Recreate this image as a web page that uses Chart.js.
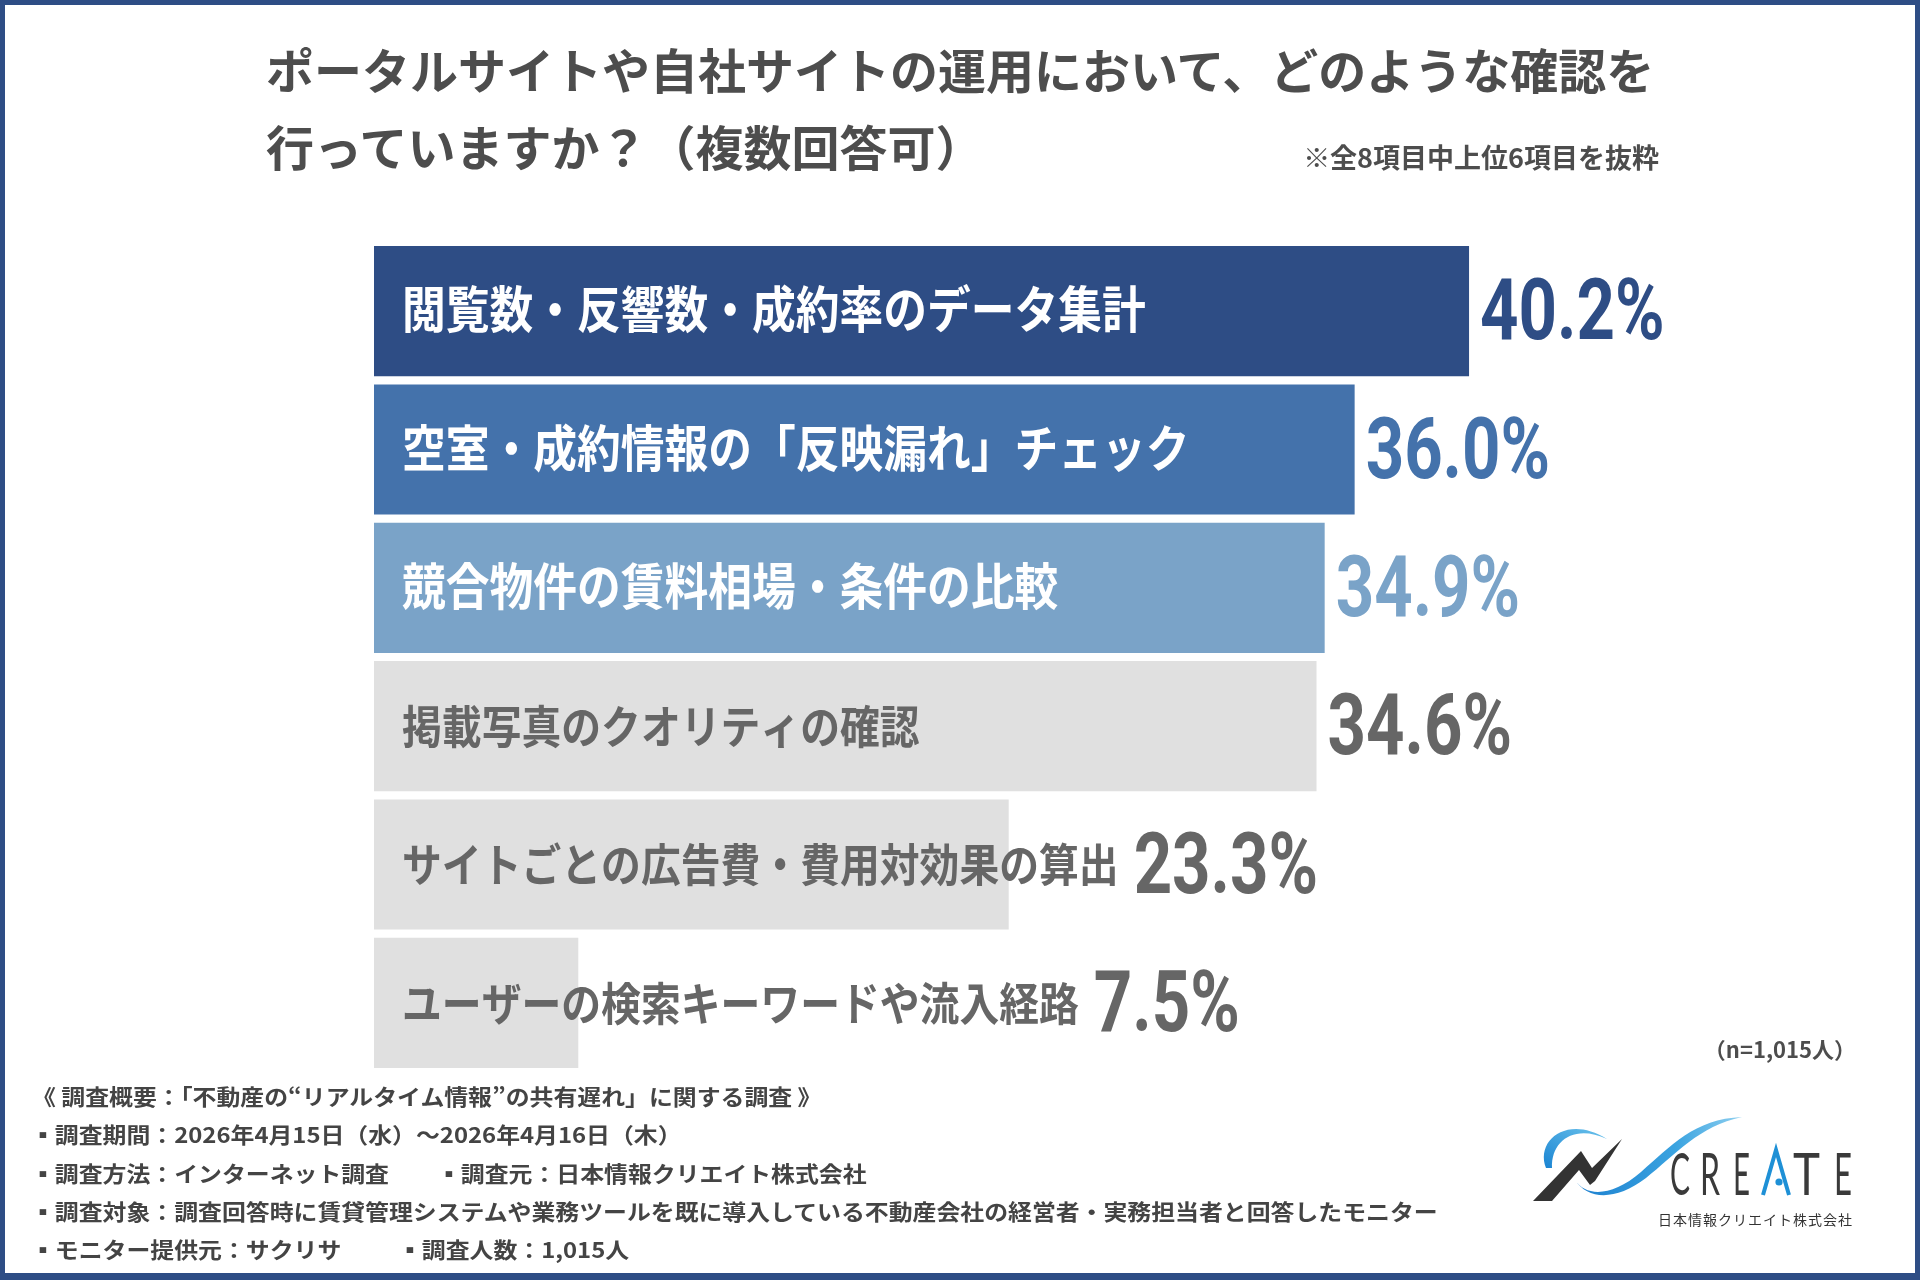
<!DOCTYPE html>
<html lang="ja">
<head>
<meta charset="utf-8">
<script src="https://cdn.jsdelivr.net/npm/chart.js@4.4.1/dist/chart.umd.min.js"></script>
<style>
  html, body { margin: 0; padding: 0; background: #fff; }
  body { width: 1920px; height: 1280px; position: relative; overflow: hidden;
         font-family: "Noto Sans CJK JP", "Noto Sans", sans-serif; }
  #frame { position: absolute; left: 0; top: 0; width: 1920px; height: 1280px; box-sizing: border-box;
           border-style: solid; border-color: #2e4d85; border-width: 5px 5px 7px 5px; pointer-events: none; }
  #chart { position: absolute; left: 0; top: 0; }
  .t { position: absolute; white-space: nowrap; font-weight: 700; }
  .title { left: 266px; font-size: 48px; line-height: 48px; color: #4d4d4d; }
  .note { right: 261px; top: 143px; font-size: 27px; line-height: 27px; color: #4d4d4d; }
  .n { right: 64px; top: 1037px; font-size: 22px; line-height: 22px; color: #4d4d4d; }
  .f { font-size: 21.5px; line-height: 22px; color: #444; transform: scaleX(1.11); transform-origin: left center; }
  #logo { position: absolute; left: 1520px; top: 1100px; }
</style>
</head>
<body>
<canvas id="chart" width="1920" height="1280"></canvas>

<div class="t title" style="top:44px">ポータルサイトや自社サイトの運用において、どのような確認を</div>
<div class="t title" style="top:121px">行っていますか？（複数回答可）</div>
<div class="t note">※全8項目中上位6項目を抜粋</div>
<div class="t n">（n=1,015人）</div>

<div class="t f" style="left:32px; top:1085px">《 調査概要：「不動産の“リアルタイム情報”の共有遅れ」に関する調査 》</div>
<div class="t f" style="left:31px; top:1123px">▪調査期間：2026年4月15日（水）～2026年4月16日（木）</div>
<div class="t f" style="left:31px; top:1162px">▪調査方法：インターネット調査</div>
<div class="t f" style="left:437px; top:1162px">▪調査元：日本情報クリエイト株式会社</div>
<div class="t f" style="left:31px; top:1200px">▪調査対象：調査回答時に賃貸管理システムや業務ツールを既に導入している不動産会社の経営者・実務担当者と回答したモニター</div>
<div class="t f" style="left:31px; top:1238px">▪モニター提供元：サクリサ</div>
<div class="t f" style="left:398px; top:1238px">▪調査人数：1,015人</div>

<svg id="logo" width="350" height="140" viewBox="1520 1100 350 140" xmlns="http://www.w3.org/2000/svg">
  <defs>
    <linearGradient id="g1" x1="0" y1="1" x2="1" y2="0">
      <stop offset="0" stop-color="#1a84d2"/>
      <stop offset="1" stop-color="#6cc3ec"/>
    </linearGradient>
    <linearGradient id="g2" x1="0" y1="0" x2="1" y2="0">
      <stop offset="0" stop-color="#1c7fcf"/>
      <stop offset="0.6" stop-color="#3aa3e0"/>
      <stop offset="1" stop-color="#8fd0f0"/>
    </linearGradient>
  </defs>
  <path d="M1546,1168 C1535,1140 1568,1114 1607,1139 C1575,1124 1551,1140 1552,1168 Z" fill="url(#g1)"/>
  <path d="M1533,1201 L1581,1151 L1592,1168 L1622,1139 L1595,1181 L1590,1185 L1579,1170 L1552,1201 Z" fill="#333"/>
  <path d="M1575,1180 C1586,1197 1612,1197 1641,1172 C1671,1146 1694,1119 1742,1117 C1699,1126 1675,1155 1646,1178 C1616,1201 1588,1200 1575,1180 Z" fill="url(#g2)"/>
  <g font-family="Lato, 'Noto Sans', sans-serif" font-weight="400" font-size="58" fill="#3a3a3a">
    <text x="1670" y="1195" textLength="20" lengthAdjust="spacingAndGlyphs">C</text>
    <text x="1700" y="1195" textLength="20" lengthAdjust="spacingAndGlyphs">R</text>
    <text x="1733" y="1195" textLength="17" lengthAdjust="spacingAndGlyphs">E</text>
    <text x="1793" y="1195" textLength="27" lengthAdjust="spacingAndGlyphs">T</text>
    <text x="1834" y="1195" textLength="18" lengthAdjust="spacingAndGlyphs">E</text>
  </g>
  <path d="M1763,1195 L1776,1150 L1789,1195" fill="none" stroke="#1e90d6" stroke-width="4" stroke-linejoin="miter"/>
  <circle cx="1779" cy="1182" r="3.6" fill="#1e90d6"/>
  <text x="1658" y="1225" font-size="14" fill="#333" textLength="194" lengthAdjust="spacing"
        font-family="'Noto Sans CJK JP', sans-serif">日本情報クリエイト株式会社</text>
</svg>

<div id="frame"></div>

<script>
// ---- data ----
const categories = [
  "閲覧数・反響数・成約率のデータ集計",
  "空室・成約情報の「反映漏れ」チェック",
  "競合物件の賃料相場・条件の比較",
  "掲載写真のクオリティの確認",
  "サイトごとの広告費・費用対効果の算出",
  "ユーザーの検索キーワードや流入経路"
];
const values = [40.2, 36.0, 34.9, 34.6, 23.3, 7.5];

// ---- styles ----
const barColors   = ["#2e4d85", "#4472ab", "#7aa3c8", "#e0e0e0", "#e0e0e0", "#e0e0e0"];
const valueColors = ["#2e4d85", "#4472ab", "#7aa3c8", "#666666", "#666666", "#666666"];
const labelColors = ["#ffffff", "#ffffff", "#ffffff", "#666666", "#666666", "#666666"];

const labelPlugin = {
  id: "barLabels",
  afterDatasetsDraw(chart) {
    const ctx = chart.ctx;
    const meta = chart.getDatasetMeta(0);
    const left = chart.chartArea.left;
    meta.data.forEach((bar, i) => {
      const big = i < 3;
      const size = big ? 50 : 45.5;
      const sx = 0.875;
      const tx = left + 28;
      ctx.save();
      ctx.font = `700 ${size}px "Noto Sans CJK JP"`;
      ctx.fillStyle = labelColors[i];
      ctx.textBaseline = "middle";
      ctx.translate(tx, bar.y + (big ? -2 : 0.5));
      ctx.scale(sx, 1);
      ctx.fillText(categories[i], 0, 0);
      const w = ctx.measureText(categories[i]).width * sx;
      ctx.restore();

      const vx = Math.max(bar.x + 11, tx + w + 15);
      ctx.save();
      ctx.font = `700 86px Roboto`;
      ctx.fillStyle = valueColors[i];
      ctx.textBaseline = "alphabetic";
      ctx.translate(vx, bar.y + 28);
      ctx.scale(0.78, 1);
      ctx.fillText(values[i].toFixed(1) + "%", 0, 0);
      ctx.restore();
    });
  }
};

new Chart(document.getElementById("chart"), {
  type: "bar",
  data: {
    labels: categories,
    datasets: [{
      data: values,
      backgroundColor: barColors,
      borderWidth: 0,
      barPercentage: 0.9415,
      categoryPercentage: 1
    }]
  },
  options: {
    indexAxis: "y",
    responsive: false,
    animation: false,
    devicePixelRatio: 1,
    layout: { padding: { left: 374, right: 184, top: 242, bottom: 208 } },
    scales: {
      x: { display: false, min: 0, max: 50 },
      y: { display: false }
    },
    plugins: { legend: { display: false }, tooltip: { enabled: false }, title: { display: false } }
  },
  plugins: [labelPlugin]
});
</script>
</body>
</html>
